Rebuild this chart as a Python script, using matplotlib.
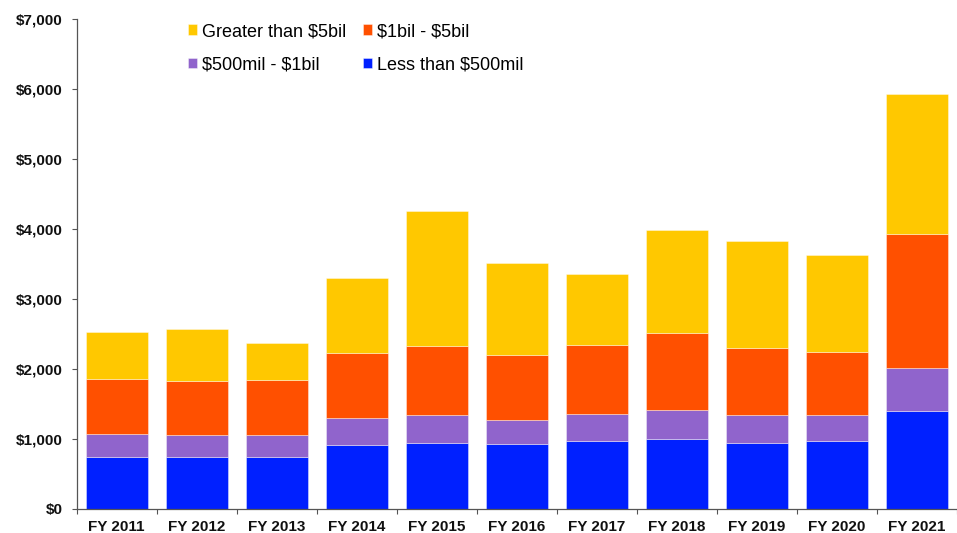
"""
Stacked bars by size band, FY 2011 - FY 2021
"""

import matplotlib

matplotlib.use("Agg")
import matplotlib.pyplot as plt
import numpy as np
from matplotlib.ticker import FuncFormatter, MultipleLocator

years = ["FY 2011", "FY 2012", "FY 2013", "FY 2014", "FY 2015", "FY 2016",
         "FY 2017", "FY 2018", "FY 2019", "FY 2020", "FY 2021"]

# cumulative tops, converted to band sizes below
top_less_500m = [740, 740, 740, 912, 941, 927, 965, 998, 941, 965, 1398]
top_500m_1b = [1069, 1050, 1055, 1289, 1332, 1274, 1355, 1417, 1346, 1341, 2017]
top_1b_5b = [1860, 1826, 1841, 2226, 2327, 2198, 2346, 2517, 2303, 2236, 3933]
top_gt_5b = [2527, 2565, 2375, 3304, 4261, 3514, 3361, 3986, 3829, 3623, 5933]

less_500m = np.array(top_less_500m)
band_500m_1b = np.array(top_500m_1b) - np.array(top_less_500m)
band_1b_5b = np.array(top_1b_5b) - np.array(top_500m_1b)
gt_5b = np.array(top_gt_5b) - np.array(top_1b_5b)

COLORS = {
    "less": "#0020FF",
    "500m": "#9064CC",
    "1b": "#FF5000",
    "5b": "#FFC800",
}

plt.rcParams["font.family"] = ["Liberation Sans", "DejaVu Sans"]
plt.rcParams["text.parse_math"] = False

fig = plt.figure(figsize=(9.57, 5.33), dpi=100)
ax = fig.add_axes([76.7 / 957, 1 - 508.6 / 533, (957 - 76.7) / 957, (508.6 - 19.3) / 533])

x = np.arange(len(years))
width = 0.77
edge = dict(edgecolor=(1, 1, 1, 0.45), linewidth=0.6)

b1 = ax.bar(x, less_500m, width, color=COLORS["less"], **edge)
b2 = ax.bar(x, band_500m_1b, width, bottom=less_500m, color=COLORS["500m"], **edge)
b3 = ax.bar(x, band_1b_5b, width, bottom=less_500m + band_500m_1b,
            color=COLORS["1b"], **edge)
b4 = ax.bar(x, gt_5b, width, bottom=less_500m + band_500m_1b + band_1b_5b,
            color=COLORS["5b"], **edge)

ax.set_xlim(-0.5, -0.5 + (957 - 76.7) / 80.65)
ax.set_ylim(0, 7000)

ax.yaxis.set_major_locator(MultipleLocator(1000))
ax.yaxis.set_major_formatter(FuncFormatter(lambda v, _: f"${v:,.0f}"))
ax.tick_params(axis="y", length=3.6, width=0.8, color="#555555", pad=6.5,
               labelsize=11)

ax.set_xticks(x)
ax.set_xticklabels(years)
ax.set_xticks(np.arange(-0.5, len(years), 1), minor=True)
ax.tick_params(axis="x", which="major", length=0, pad=8.5, labelsize=11)
ax.tick_params(axis="x", which="minor", length=3.6, width=0.8, color="#555555")

for lab in ax.get_xticklabels() + ax.get_yticklabels():
    lab.set_fontweight("bold")
    lab.set_color("#111111")

for side in ("top", "right"):
    ax.spines[side].set_visible(False)
for side in ("left", "bottom"):
    ax.spines[side].set_color("#555555")
    ax.spines[side].set_linewidth(0.9)

# ncol=2 fills column-wise, so order handles accordingly
handles = [b4, b2, b3, b1]
labels = ["Greater than $5bil", "$500mil - $1bil", "$1bil - $5bil", "Less than $500mil"]
ax.legend(
    handles, labels,
    ncol=2,
    loc="upper left",
    bbox_to_anchor=(188 / 957, 1 - 23 / 533),
    bbox_transform=fig.transFigure,
    frameon=False,
    fontsize=13,
    borderpad=0,
    borderaxespad=0,
    handlelength=0.52,
    handleheight=0.5,
    handletextpad=0.28,
    columnspacing=0.9,
    labelspacing=0.92,
)

fig.savefig("out.png", dpi=100)
